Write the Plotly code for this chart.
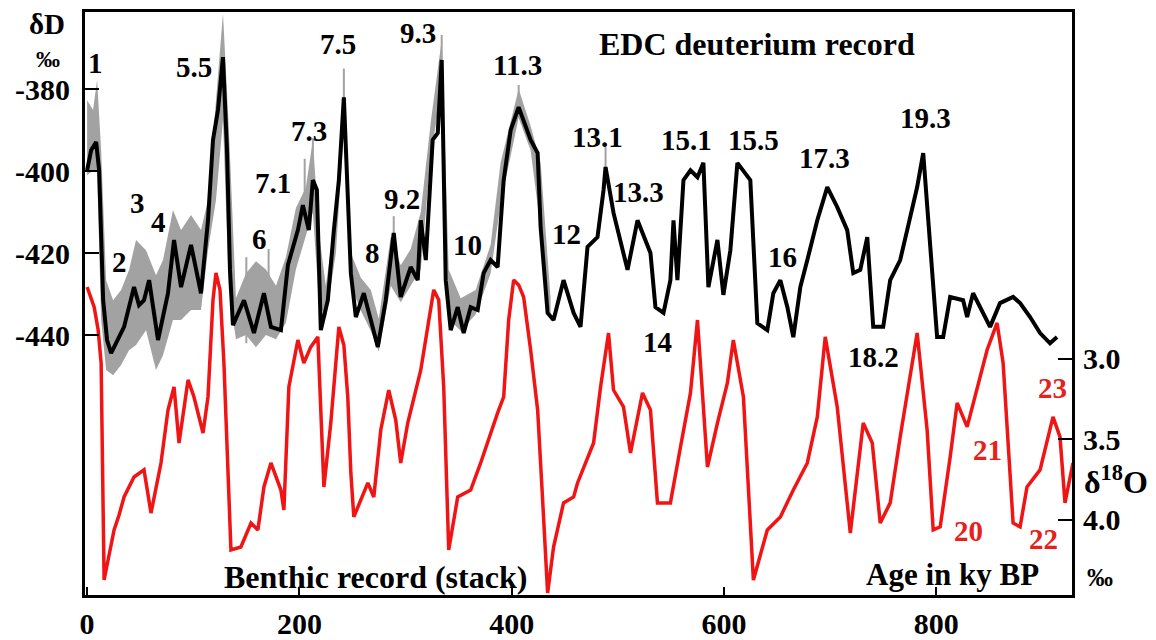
import plotly.graph_objects as go

# ---------------- data ----------------
edc_age = [0, 3.8, 8.5, 11.3, 15.1, 18.8, 22.6, 28.2, 34.8, 44.2, 48.9, 53.6, 58.4, 66.8, 76.2, 81.9,
           88.5, 97.9, 107.3, 113.9, 118.6, 123.3, 128.0, 131.8, 134.6, 137.4, 147.8, 157.2, 166.6,
           173.2, 182.6, 189.2, 198.6, 203.3, 208.9, 212.7, 216.5, 220.2, 226.8, 232.5, 237.2, 241.9,
           245.6, 248.5, 253.2, 260.7, 267.3, 273.9, 281.4, 288.9, 295.5, 304.9, 311.5, 314.4, 319.1,
           325.6, 330.4, 334.1, 337.9, 342.6, 349.2, 354.8, 361.4, 368.0, 373.6, 380.2, 386.8, 392.5,
           399.1, 406.6, 417.9, 424.5, 427.3, 433.9, 439.5, 448.9, 458.4, 464.9, 471.5, 480.9, 486.6,
           488.5, 496.0, 509.2, 518.6, 530.8, 535.5, 543.1, 549.6, 552.5, 556.2, 561.9, 568.5, 575.1,
           580.7, 585.4, 593.9, 599.5, 606.1, 612.7, 624.9, 631.5, 640.9, 646.6, 653.2, 659.8, 665.4,
           672.0, 678.6, 688.0, 697.4, 706.8, 716.2, 721.9, 728.5, 735.1, 740.7, 750.1, 756.7, 766.1,
           772.7, 782.1, 787.8, 794.4, 800.9, 806.6, 813.2, 825.4, 829.2, 834.8, 841.4, 850.8, 860.2,
           872.5, 879.1, 888.5, 897.9, 907.3, 913.9]
edc_dD = [-399.8, -394.9, -392.9, -399.8, -431.5, -441.2, -444.4, -441.2, -438.0, -428.3, -432.7,
          -431.5, -426.6, -441.2, -429.8, -416.8, -428.3, -418.0, -429.8, -412.0, -392.4, -385.1,
          -372.2, -394.9, -424.1, -437.6, -431.5, -439.5, -429.8, -438.0, -438.8, -422.9, -414.4,
          -408.3, -414.4, -402.2, -404.6, -438.8, -431.5, -414.4, -402.2, -382.0, -407.1, -424.9,
          -435.6, -429.8, -436.3, -442.9, -431.5, -415.1, -430.7, -423.4, -426.6, -412.0, -421.7,
          -392.4, -390.7, -372.9, -426.6, -438.8, -433.2, -439.5, -433.2, -433.9, -424.9, -421.7,
          -423.4, -402.2, -390.0, -384.4, -392.4, -395.6, -413.7, -434.6, -436.3, -426.6, -434.6,
          -438.0, -418.5, -416.1, -404.6, -399.0, -410.2, -424.1, -412.0, -420.0, -433.2, -434.6,
          -426.6, -412.0, -426.6, -402.2, -399.8, -401.5, -398.0, -428.3, -416.8, -430.2, -419.3,
          -398.0, -402.2, -437.1, -438.8, -429.8, -426.6, -433.2, -440.5, -428.3, -421.7, -412.0,
          -403.9, -408.8, -414.4, -424.9, -424.1, -416.1, -438.0, -438.0, -426.6, -421.7, -414.4,
          -403.9, -395.6, -418.5, -440.5, -440.5, -430.7, -431.5, -435.6, -429.8, -433.2, -438.0,
          -432.2, -430.7, -432.2, -435.6, -439.5, -442.0, -440.5]

# envelope of the raw (grey) deuterium data
raw_age = [0, 5.6, 9.4, 13.2, 17.9, 24.5, 32.0, 39.5, 46.1, 55.5, 64.9, 71.5, 80.9, 88.5, 97.9, 107.3,
           113.9, 121.4, 128.0, 133.6, 140.2, 149.6, 159.1, 168.5, 177.9, 187.3, 196.7, 206.1, 212.7,
           218.4, 224.9, 234.4, 241.9, 248.5, 257.9, 267.3, 274.8, 286.1, 295.5, 304.9, 314.4, 323.8,
           334.1, 340.7, 352.0, 366.1, 380.2, 389.6, 406.6, 417.9, 427.3, 436.7]
raw_dD_high = [-382.7, -385.1, -377.8, -394.9, -426.6, -431.5, -429.0, -424.1, -416.8, -419.3, -425.4,
               -421.7, -409.5, -414.4, -410.7, -414.4, -407.1, -382.7, -361.5, -390.0, -431.0, -425.0,
               -422.0, -424.0, -428.0, -421.0, -409.0, -404.0, -392.4, -415.0, -428.0, -410.0, -378.0,
               -420.0, -426.0, -429.0, -436.0, -416.0, -423.0, -419.0, -410.0, -388.0, -368.0, -424.0,
               -431.0, -429.0, -418.0, -398.0, -380.0, -389.0, -398.0, -431.0]
raw_dD_low = [-401.0, -399.8, -399.8, -436.3, -448.5, -449.8, -447.3, -443.7, -442.4, -438.8, -448.5,
              -444.9, -436.3, -436.3, -433.9, -433.9, -419.3, -407.1, -387.6, -429.0, -441.0, -440.0,
              -443.0, -440.0, -441.0, -437.0, -424.0, -416.0, -410.0, -432.0, -436.0, -420.0, -390.0,
              -428.0, -434.0, -439.0, -444.0, -428.0, -432.0, -428.0, -424.0, -396.0, -380.0, -436.0,
              -439.0, -435.0, -425.0, -408.0, -387.0, -395.0, -414.0, -437.0]
# isolated raw spikes
spike_age = [150, 171, 205, 212.7, 241.9, 288.9, 334.1, 406.6, 488.5]
spike_high = [-421, -419, -397, -392, -375, -411, -366.8, -379, -394]
spike_low = [-442, -440, -410, -405, -385, -418, -376, -386, -402]

benthic_age = [0, 6.6, 10.4, 13.2, 16.0, 20.7, 25.4, 30.1, 34.8, 44.2, 53.6, 60.2, 69.6, 76.2, 81.9,
               86.6, 95.1, 100.7, 109.2, 113.9, 118.6, 121.4, 125.2, 128.9, 132.7, 135.5, 144.9, 154.4,
               160.9, 166.6, 173.2, 182.6, 185.4, 190.1, 198.6, 204.2, 210.8, 217.4, 223.1, 229.6,
               237.2, 241.9, 245.6, 248.5, 251.3, 264.5, 270.1, 276.7, 284.2, 290.8, 295.5, 302.1,
               314.4, 320.9, 326.6, 331.3, 336.0, 340.7, 349.2, 361.4, 370.8, 386.8, 392.5, 397.2,
               401.9, 406.6, 411.3, 417.9, 424.5, 429.2, 433.9, 439.5, 448.9, 458.4, 462.1, 477.2,
               483.8, 491.3, 496.0, 505.4, 512.0, 523.3, 530.8, 537.4, 549.6, 559.1, 568.5, 575.1,
               584.5, 593.9, 603.3, 608.9, 618.4, 627.8, 640.9, 653.2, 665.4, 678.6, 688.0, 695.5,
               706.8, 719.1, 731.3, 739.8, 747.3, 756.7, 766.1, 782.1, 791.5, 797.2, 803.8, 813.2,
               819.8, 829.2, 838.6, 848.0, 857.4, 863.1, 872.5, 879.1, 885.6, 897.9, 910.1, 916.7,
               921.4, 928.9]
benthic_d18O = [2.553, 2.677, 2.820, 3.025, 4.373, 4.217, 4.062, 3.969, 3.857, 3.733, 3.689, 3.957,
                3.646, 3.317, 3.174, 3.522, 3.130, 3.236, 3.460, 3.236, 2.634, 2.466, 2.571, 3.025,
                3.752, 4.186, 4.168, 4.019, 4.062, 3.795, 3.646, 3.814, 3.938, 3.174, 2.882, 3.025,
                2.925, 2.863, 3.795, 3.398, 2.801, 2.913, 3.236, 3.708, 3.981, 3.770, 3.857, 3.441,
                3.193, 3.379, 3.646, 3.398, 3.068, 2.820, 2.571, 2.634, 3.174, 4.186, 3.857, 3.814,
                3.646, 3.335, 3.236, 2.758, 2.509, 2.540, 2.615, 2.944, 3.317, 3.876, 4.453, 4.168,
                3.894, 3.857, 3.770, 3.522, 3.174, 2.839, 3.193, 3.298, 3.584, 3.211, 3.317, 3.894,
                3.894, 3.547, 3.211, 2.758, 3.671, 3.398, 3.149, 2.882, 3.236, 4.373, 4.062, 3.981,
                3.814, 3.646, 3.360, 2.863, 3.298, 4.081, 3.398, 3.522, 4.019, 3.894, 3.484, 2.839,
                3.441, 4.062, 4.043, 3.609, 3.273, 3.422, 3.174, 2.944, 2.776, 3.025, 4.019, 4.043,
                3.795, 3.689, 3.360, 3.484, 3.894, 3.646]

age_ticks = [0, 200, 400, 600, 800]
dD_ticks = [-380, -400, -420, -440]
d18O_ticks = [3.0, 3.5, 4.0]

black_labels = ["1", "5.5", "7.5", "9.3", "11.3", "7.3", "7.1", "13.1", "13.3", "15.1", "15.5",
                "17.3", "19.3", "3", "4", "2", "6", "8", "9.2", "10", "12", "14", "16", "18.2"]
red_labels = ["20", "21", "22", "23"]

# ---------------- styling / placement ----------------
W, H = 1156, 640
L, R, T, B = 85, 84, 12, 45
PW, PH = W - L - R, H - T - B
FONT = "Liberation Serif"

def paper(px, py):
    return (px - L) / PW, (H - B - py) / PH

black_label_px = [(95, 63), (194, 67), (338, 44), (418, 33), (517, 65), (309, 131), (273, 183),
                  (597, 137), (638, 192), (686, 140), (753, 140), (824, 158), (925, 118),
                  (137, 203), (158, 222), (119, 262), (259, 239), (372, 253), (402, 199),
                  (467, 245), (566, 234), (657, 342), (782, 257), (873, 357)]
red_label_px = [(968, 531), (987, 450), (1043, 539), (1052, 388)]

fig = go.Figure()
fig.add_trace(go.Scatter(x=raw_age, y=raw_dD_low, mode="lines", line=dict(width=0),
                         hoverinfo="skip", showlegend=False))
fig.add_trace(go.Scatter(x=raw_age, y=raw_dD_high, mode="lines", line=dict(width=0),
                         fill="tonexty", fillcolor="#a2a2a2", hoverinfo="skip", showlegend=False))
sx, sy = [], []
for a, hi, lo in zip(spike_age, spike_high, spike_low):
    sx += [a, a, None]
    sy += [lo, hi, None]
fig.add_trace(go.Scatter(x=sx, y=sy, mode="lines", line=dict(color="#a2a2a2", width=2),
                         hoverinfo="skip", showlegend=False))
fig.add_trace(go.Scatter(x=edc_age, y=edc_dD, mode="lines",
                         line=dict(color="black", width=4), showlegend=False))
fig.add_trace(go.Scatter(x=benthic_age, y=benthic_d18O, yaxis="y2", mode="lines",
                         line=dict(color="#f01414", width=3.5), showlegend=False))

ann = []
def add_text(text, px, py, size, color="black", xanchor="center"):
    xp, yp = paper(px, py)
    ann.append(dict(text=text, x=xp, y=yp, xref="paper", yref="paper", showarrow=False,
                    xanchor=xanchor, yanchor="middle",
                    font=dict(family=FONT, size=size, color=color, weight="bold")))

for t, (px, py) in zip(black_labels, black_label_px):
    add_text(t, px, py, 29)
for t, (px, py) in zip(red_labels, red_label_px):
    add_text(t, px, py, 29, color="#e8201c")

add_text("EDC deuterium record", 757, 44, 32)
add_text("Benthic record (stack)", 375, 577, 32)
add_text("Age in ky BP", 952, 574, 31)
add_text("δD", 47, 24, 29)
add_text("‰", 48, 59, 24)
add_text("δ<sup>18</sup>O", 1082, 480, 32, xanchor="left")
add_text("‰", 1100, 577, 26)

tickfont = dict(family=FONT, size=30, color="black", weight="bold")

fig.update_layout(
    width=W, height=H,
    margin=dict(l=L, r=R, t=T, b=B, autoexpand=False),
    paper_bgcolor="white", plot_bgcolor="white",
    showlegend=False,
    annotations=ann,
    xaxis=dict(range=[-2, 928], tickvals=age_ticks, ticktext=[str(v) for v in age_ticks],
               ticks="inside", ticklen=8, tickwidth=2, tickcolor="black",
               showline=True, linewidth=3, linecolor="black", mirror=True, automargin=False,
               showgrid=False, zeroline=False, tickfont=tickfont, ticklabelstandoff=0),
    yaxis=dict(range=[-503.4, -361.2], tickvals=dD_ticks, ticktext=[str(v) for v in dD_ticks],
               ticks="inside", ticklen=14, tickwidth=2, tickcolor="black", automargin=False,
               showline=True, linewidth=3, linecolor="black", mirror=True,
               showgrid=False, zeroline=False, tickfont=tickfont, ticklabelstandoff=6),
    yaxis2=dict(overlaying="y", side="right", range=[4.466, 0.845], tickvals=d18O_ticks,
                ticktext=["%.1f" % v for v in d18O_ticks], automargin=False,
                ticks="inside", ticklen=14, tickwidth=2, tickcolor="black",
                showline=False, showgrid=False, zeroline=False, tickfont=tickfont,
                ticklabelstandoff=10),
)

fig.write_html("out.html")
